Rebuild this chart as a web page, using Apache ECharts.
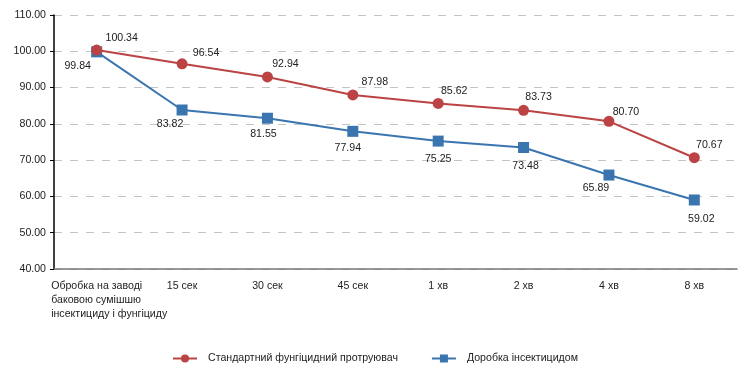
<!DOCTYPE html>
<html>
<head>
<meta charset="utf-8">
<script src="https://cdn.jsdelivr.net/npm/echarts@6/dist/echarts.min.js"></script>
<style>
  html, body { margin: 0; padding: 0; background: #fff; }
  #chart { width: 739px; height: 365px; }
</style>
</head>
<body>
<div id="chart"></div>
<script>
  var categories = ['Обробка на заводі\nбаковою сумішшю\nінсектициду і фунгіциду',
    '15 сек', '30 сек', '45 сек', '1 хв', '2 хв', '4 хв', '8 хв'];
  var seriesNames = ['Стандартний фунгіцидний протруювач', 'Доробка інсектицидом'];
  var standardValues = [100.34, 96.54, 92.94, 87.98, 85.62, 83.73, 80.70, 70.67];
  var insecticideValues = [99.84, 83.82, 81.55, 77.94, 75.25, 73.48, 65.89, 59.02];

  // label shifts from the point, px (layout only)
  var redShift = [[25, -12], [24, -11], [18, -13], [22, -13], [16, -12], [15, -13], [17, -9], [15, -13]];
  var blueShift = [[-19, 14], [-12, 14], [-4, 16], [-5, 17], [0, 18], [2, 19], [-13, 13], [7, 19]];

  var font = 'Liberation Sans, Arial, sans-serif';
  var fs = 10.6;

  function withLabels(values, shifts) {
    return values.map(function (v, i) {
      return { value: v, label: { offset: shifts[i] } };
    });
  }

  var chart = echarts.init(document.getElementById('chart'));
  chart.setOption({
    animation: false,
    textStyle: { fontFamily: font },
    grid: { left: 54, right: 2, top: 15, bottom: 96 },
    legend: {
      top: 348,
      left: 167,
      itemWidth: 24,
      itemHeight: 10,
      itemGap: 33,
      textStyle: { fontSize: fs, color: '#222', fontFamily: font, padding: [0, 0, 0, 6] },
      data: seriesNames
    },
    xAxis: {
      type: 'category',
      data: categories,
      boundaryGap: true,
      axisLine: { lineStyle: { color: '#777', width: 1.5 } },
      axisTick: { show: false },
      axisLabel: {
        interval: 0,
        margin: 10,
        color: '#222',
        fontSize: fs,
        lineHeight: 14,
        formatter: function (v, i) {
          if (i === 0) {
            return v.split('\n').map(function (s) { return '{a|' + s + '}'; }).join('\n');
          }
          return v;
        },
        rich: {
          a: { align: 'left', padding: [0, 0, 0, 25], fontSize: fs, lineHeight: 14, color: '#222' }
        }
      }
    },
    yAxis: {
      type: 'value',
      min: 40,
      max: 110,
      interval: 10,
      axisLine: { show: true, lineStyle: { color: '#000', width: 1.5 } },
      axisTick: { show: true, length: 4, lineStyle: { color: '#000' } },
      axisLabel: {
        margin: 8,
        color: '#222',
        fontSize: fs,
        formatter: function (v) { return v.toFixed(2); }
      },
      splitLine: { lineStyle: { color: '#c4c4c4', width: 1, type: [8, 8] } }
    },
    series: [
      {
        name: seriesNames[0],
        type: 'line',
        z: 3,
        data: withLabels(standardValues, redShift),
        symbol: 'circle',
        symbolSize: 11,
        color: '#bb4343',
        lineStyle: { width: 2 },
        label: {
          show: true,
          position: 'inside',
          color: '#222',
          fontSize: fs,
          formatter: function (p) { return p.value.toFixed(2); }
        }
      },
      {
        name: seriesNames[1],
        type: 'line',
        z: 2,
        data: withLabels(insecticideValues, blueShift),
        symbol: 'rect',
        symbolSize: 11,
        color: '#3b75b0',
        lineStyle: { width: 2 },
        label: {
          show: true,
          position: 'inside',
          color: '#222',
          fontSize: fs,
          formatter: function (p) { return p.value.toFixed(2); }
        }
      }
    ]
  });
</script>
</body>
</html>
